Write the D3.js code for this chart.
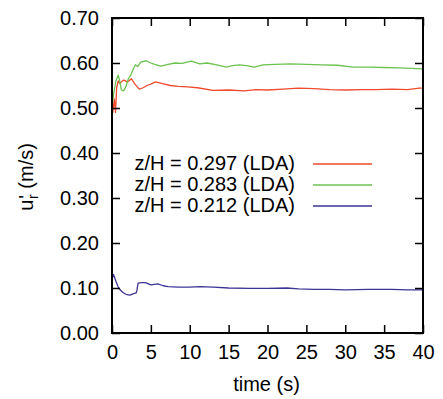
<!DOCTYPE html>
<html>
<head>
<meta charset="utf-8">
<script src="https://cdn.jsdelivr.net/npm/d3@7"></script>
<style>
  html, body { margin: 0; padding: 0; background: #fff; }
  svg { display: block; font-family: "Liberation Sans", Arial, Helvetica, sans-serif; }
</style>
</head>
<body>
<svg id="chart" width="443" height="399"></svg>
<script>
// Running r.m.s. of radial velocity fluctuation at three heights (LDA)
const xTicks = [0, 5, 10, 15, 20, 25, 30, 35, 40];
const yTicks = [0.0, 0.1, 0.2, 0.3, 0.4, 0.5, 0.6, 0.7];

const seriesNames = ["z/H = 0.297 (LDA)", "z/H = 0.283 (LDA)", "z/H = 0.212 (LDA)"];
const seriesColors = ["#ee4a2c", "#6cc24f", "#3d3596"];

const timeA = [0, 0.1, 0.3, 0.45, 0.6, 0.8, 1.0, 1.5, 2.0, 2.5, 3.0, 3.5, 4.0, 4.5, 5.0, 5.6, 6.5, 7.5, 8.5, 9.7,
  11, 13, 15, 17, 18.5, 20, 22, 24, 26, 28, 30, 32, 34, 36, 38, 39.5, 40];
const valuesA = [0.50, 0.49, 0.52, 0.49, 0.545, 0.56, 0.555, 0.562, 0.558, 0.565, 0.552, 0.542, 0.545, 0.550, 0.553, 0.558, 0.554, 0.550, 0.548, 0.547,
  0.545, 0.539, 0.540, 0.538, 0.541, 0.540, 0.542, 0.544, 0.543, 0.541, 0.540, 0.541, 0.541, 0.542, 0.541, 0.544, 0.544];

const timeB = [0, 0.2, 0.5, 0.8, 1.0, 1.2, 1.5, 1.8, 2.1, 2.4, 2.7, 3.0, 3.3, 3.7, 4.4, 5.0, 5.5, 6.3, 7.2, 8.1, 9.0, 10.2, 11.3, 12.2,
  13.5, 14.7, 15.5, 16.4, 17.3, 18.3, 19.4, 21, 23, 25, 27, 29, 31, 33, 35, 37, 38.5, 40];
const valuesB = [0.50, 0.53, 0.56, 0.573, 0.56, 0.54, 0.538, 0.548, 0.565, 0.573, 0.585, 0.596, 0.592, 0.602, 0.605, 0.600, 0.597, 0.593, 0.597, 0.600, 0.599, 0.604, 0.598, 0.600,
  0.596, 0.591, 0.594, 0.596, 0.594, 0.591, 0.596, 0.597, 0.598, 0.597, 0.596, 0.595, 0.591, 0.591, 0.590, 0.589, 0.588, 0.587];

const timeC = [0, 0.2, 0.5, 0.8, 1.1, 1.4, 1.8, 2.3, 2.7, 3.1, 3.2, 3.35, 3.8, 4.3, 5.0, 5.9, 6.6, 7.2, 8.5, 10, 11.3, 13, 15,
  17.7, 20, 22.5, 24, 26, 28, 30, 33, 36, 38, 40];
const valuesC = [0.12, 0.13, 0.115, 0.102, 0.095, 0.09, 0.086, 0.084, 0.087, 0.089, 0.094, 0.111, 0.112, 0.112, 0.107, 0.109, 0.105, 0.103, 0.102, 0.102, 0.103, 0.102, 0.100,
  0.099, 0.099, 0.100, 0.098, 0.097, 0.097, 0.096, 0.097, 0.097, 0.096, 0.096];

const series = [
  { name: seriesNames[0], color: seriesColors[0], t: timeA, v: valuesA },
  { name: seriesNames[1], color: seriesColors[1], t: timeB, v: valuesB },
  { name: seriesNames[2], color: seriesColors[2], t: timeC, v: valuesC }
];

const svg = d3.select("#chart");
const plotLeft = 112, plotRight = 423, plotTop = 18, plotBottom = 333;
const tickLen = 8;
const fontSize = 20;

const x = d3.scaleLinear().domain([0, 40]).range([plotLeft, plotRight]);
const y = d3.scaleLinear().domain([0, 0.7]).range([plotBottom, plotTop]);

// Curves
const line = d3.line().x(d => x(d[0])).y(d => y(d[1]));
series.forEach(s => {
  svg.append("path")
    .datum(s.t.map((t, i) => [t, s.v[i]]))
    .attr("fill", "none")
    .attr("stroke", s.color)
    .attr("stroke-width", 1.3)
    .attr("stroke-linejoin", "round")
    .attr("d", line);
});

// Axes with inward ticks on all four sides
function styleAxis(g) {
  g.select(".domain").remove();
  g.selectAll(".tick line").attr("stroke", "#000").attr("stroke-width", 1.5);
  g.selectAll(".tick text").attr("fill", "#000").style("font-size", fontSize + "px")
    .style("font-family", "'Liberation Sans', Arial, sans-serif");
}

svg.append("g").attr("transform", `translate(0,${plotBottom})`)
  .call(d3.axisBottom(x).tickValues(xTicks).tickFormat(d3.format("d")).tickSizeInner(-tickLen).tickSizeOuter(0).tickPadding(12))
  .call(styleAxis);
svg.append("g").attr("transform", `translate(0,${plotTop})`)
  .call(d3.axisTop(x).tickValues(xTicks).tickFormat("").tickSizeInner(-tickLen).tickSizeOuter(0))
  .call(styleAxis);
svg.append("g").attr("transform", `translate(${plotLeft},0)`)
  .call(d3.axisLeft(y).tickValues(yTicks).tickFormat(d3.format(".2f")).tickSizeInner(-tickLen).tickSizeOuter(0).tickPadding(13))
  .call(styleAxis);
svg.append("g").attr("transform", `translate(${plotRight},0)`)
  .call(d3.axisRight(y).tickValues(yTicks).tickFormat("").tickSizeInner(-tickLen).tickSizeOuter(0))
  .call(styleAxis);

// Frame
svg.append("rect")
  .attr("x", plotLeft).attr("y", plotTop)
  .attr("width", plotRight - plotLeft).attr("height", plotBottom - plotTop)
  .attr("fill", "none").attr("stroke", "#000").attr("stroke-width", 2);

// Axis titles
svg.append("text")
  .attr("x", (plotLeft + plotRight) / 2 - 1).attr("y", 391)
  .attr("text-anchor", "middle").style("font-size", fontSize + "px")
  .text("time (s)");

const yt = svg.append("text")
  .attr("transform", "translate(33,177) rotate(-90)")
  .attr("text-anchor", "middle").style("font-size", fontSize + "px");
yt.append("tspan").text("u");
yt.append("tspan").text("'").attr("dx", 1);
yt.append("tspan").text("r").attr("dx", -4).attr("dy", 5).style("font-size", "14px");
yt.append("tspan").text(" (m/s)").attr("dy", -5);

// Legend
const legend = svg.append("g");
series.forEach((s, i) => {
  const ly = 164 + i * 21;
  legend.append("text")
    .attr("x", 295).attr("y", ly + 6)
    .attr("text-anchor", "end").style("font-size", fontSize + "px")
    .text(s.name);
  legend.append("line")
    .attr("x1", 313).attr("x2", 372).attr("y1", ly).attr("y2", ly)
    .attr("stroke", s.color).attr("stroke-width", 1.5);
});
</script>
</body>
</html>
